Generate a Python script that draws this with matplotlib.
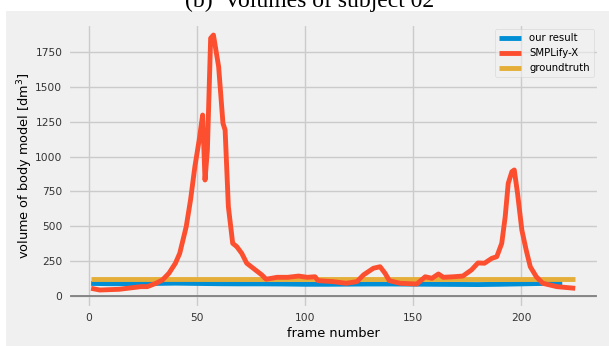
import matplotlib
matplotlib.use("Agg")
import matplotlib.pyplot as plt
from matplotlib.patches import Rectangle

plt.style.use('fivethirtyeight')

# volumes per frame
smplx_frames = [1, 5, 14, 24, 27, 31, 34, 37, 40, 42, 45, 47, 49, 51, 52.6, 53.7, 54.8,
                56.3, 57.6, 60, 62, 63, 64.5, 66.5, 68.4, 70.7, 73, 76, 78, 80, 82, 87,
                92, 97, 101, 104.6, 106, 113, 119, 124, 127, 131.6, 134.7, 137, 139, 144,
                151.7, 155.6, 158.7, 161.7, 164, 168.7, 173, 177, 180, 183, 186.4, 188.7,
                191, 192.6, 194, 195.7, 196.8, 198.3, 200.3, 202.3, 204.2, 207, 210, 216.5, 225]
smplx_vol = [55, 43, 48, 67, 67, 91, 115, 163, 235, 306, 497, 689, 927, 1119, 1298, 832, 1047,
             1849, 1872, 1645, 1239, 1191, 641, 378, 354, 306, 235, 199, 175, 151, 120, 134,
             134, 143, 134, 138, 110, 103, 91, 103, 151, 199, 210, 163, 110, 91,
             86, 138, 127, 158, 134, 138, 143, 187, 237, 235, 270, 282,
             378, 569, 808, 892, 904, 737, 473, 330, 210, 138, 91, 67, 55]

ours_frames = [1, 10, 20, 30, 40, 50, 60, 70, 80, 90, 100, 110, 120, 130, 140, 150,
               160, 170, 180, 190, 200, 210, 219]
ours_vol = [90, 88, 88, 90, 92, 90, 88, 87, 87, 86, 84, 84, 85, 86, 86, 85,
            84, 83, 82, 84, 87, 90, 90]

gt_frames = [1, 225]
gt_vol = [120, 120]

W, H = 609, 346
fig = plt.figure(figsize=(W / 100, H / 100), dpi=100, facecolor='white')
fig.patches.append(Rectangle((6 / W, 0), 1 - 6 / W, 1 - 11 / H, transform=fig.transFigure,
                             facecolor='#f0f0f0', edgecolor='none', zorder=-10))
# title is clipped by the top edge, as in the source figure
fig.text(310 / W, 1 - 6.5 / H, '(b)  Volumes of subject 02', family='Liberation Serif',
         fontsize=17, ha='center', va='baseline', color='black')

ax = fig.add_axes([68 / W, (H - 307.7) / H, (599 - 68) / W, (307.7 - 24) / H])
ax.plot(ours_frames, ours_vol, color='#008fd5', lw=3.5, label='our result', zorder=2)
ax.plot(smplx_frames, smplx_vol, color='#fc4f30', lw=3.5, label='SMPLify-X', zorder=4)
ax.plot(gt_frames, gt_vol, color='#e5ae38', lw=3.5, label='groundtruth', zorder=3)
ax.axhline(0, color='#7f7f7f', lw=1.3, zorder=1)

ax.set_xlim(-9.7, 236)
ax.set_ylim(-84, 1951)
ax.set_xticks([0, 50, 100, 150, 200])
ax.set_yticks([0, 250, 500, 750, 1000, 1250, 1500, 1750])
ax.tick_params(labelsize=7.7, colors='#333333', pad=4)
ax.grid(True, color='#cbcbcb', lw=1)
ax.set_xlabel('frame number', fontsize=9.3, labelpad=3)
ax.set_ylabel('volume of body model [dm$^3$]', fontsize=9.3, labelpad=0)
ax.legend(loc='upper right', fontsize=7.3, handlelength=2.2, framealpha=0.6)

fig.savefig('out.png', dpi=100, facecolor=fig.get_facecolor())
